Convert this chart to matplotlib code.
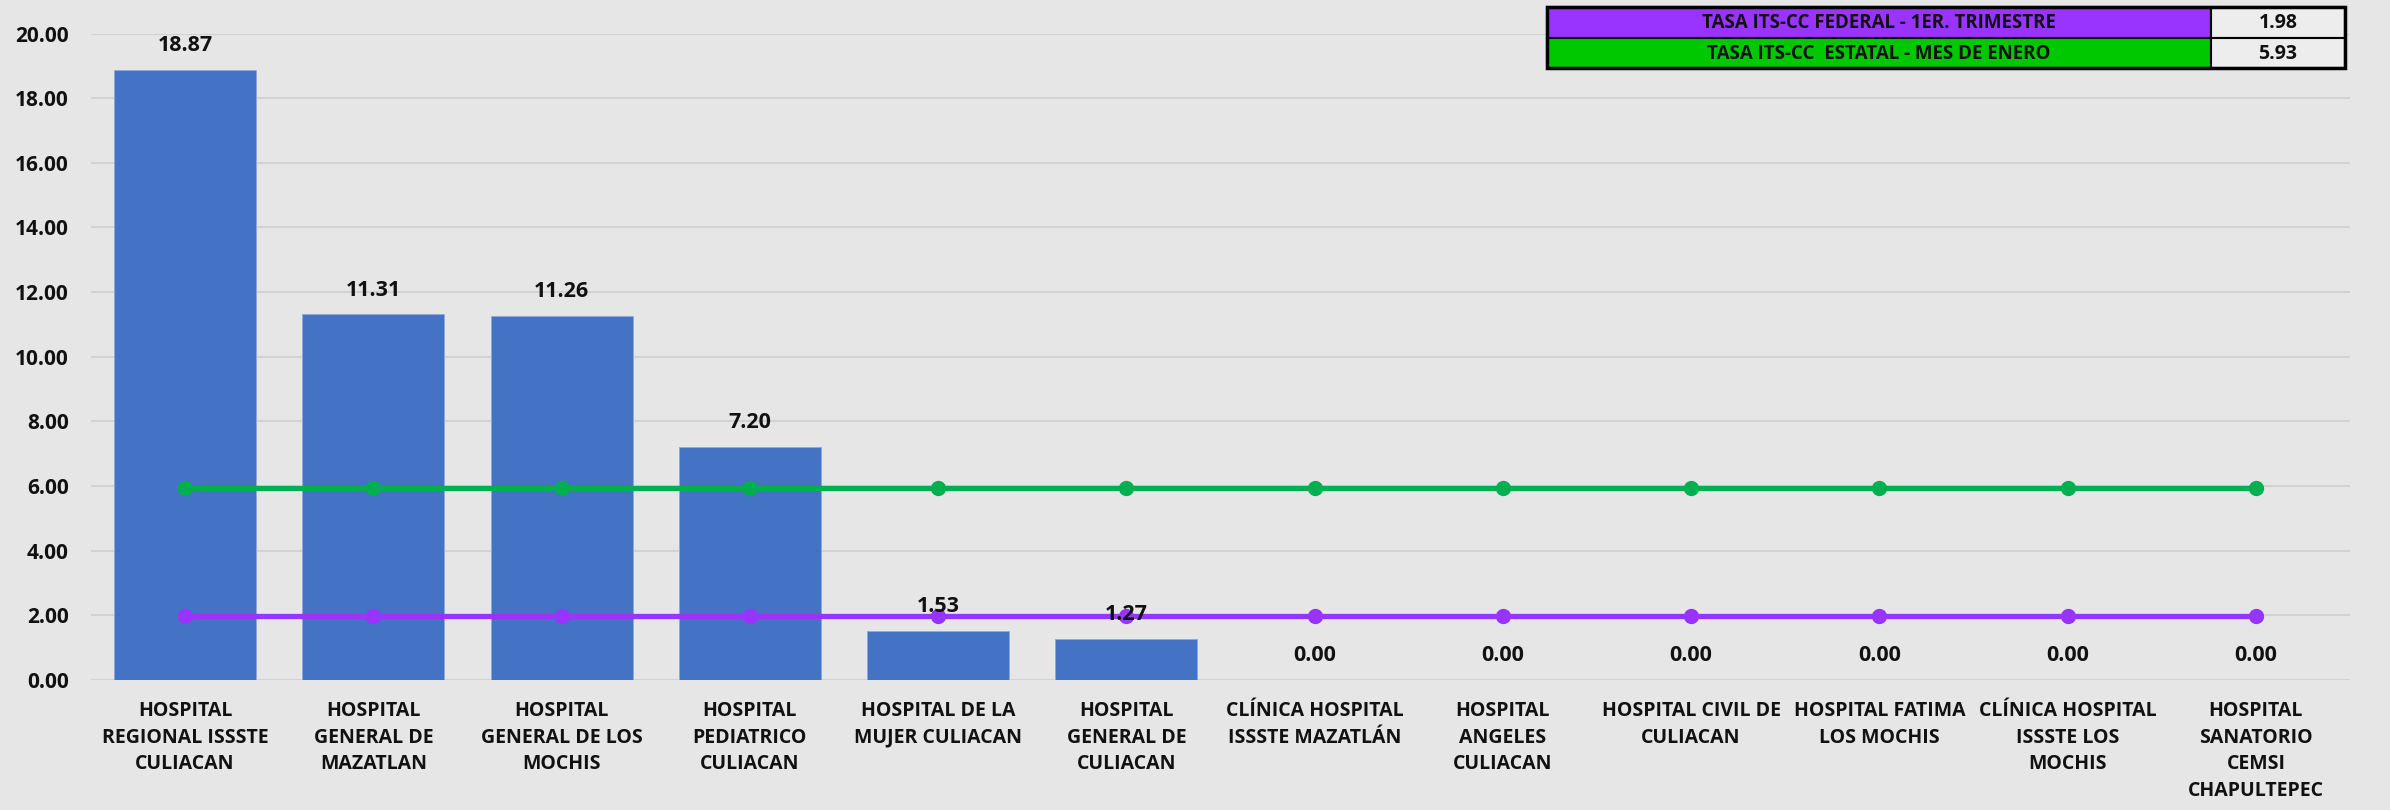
import matplotlib
matplotlib.use("Agg")
import matplotlib.pyplot as plt
from matplotlib import font_manager as fm
from matplotlib.patches import Rectangle
import numpy as np

categories = [
    "HOSPITAL\nREGIONAL ISSSTE\nCULIACAN",
    "HOSPITAL\nGENERAL DE\nMAZATLAN",
    "HOSPITAL\nGENERAL DE LOS\nMOCHIS",
    "HOSPITAL\nPEDIATRICO\nCULIACAN",
    "HOSPITAL DE LA\nMUJER CULIACAN",
    "HOSPITAL\nGENERAL DE\nCULIACAN",
    "CLÍNICA HOSPITAL\nISSSTE MAZATLÁN",
    "HOSPITAL\nANGELES\nCULIACAN",
    "HOSPITAL CIVIL DE\nCULIACAN",
    "HOSPITAL FATIMA\nLOS MOCHIS",
    "CLÍNICA HOSPITAL\nISSSTE LOS\nMOCHIS",
    "HOSPITAL\nSANATORIO\nCEMSI\nCHAPULTEPEC",
]
rates = [18.87, 11.31, 11.26, 7.20, 1.53, 1.27, 0.00, 0.00, 0.00, 0.00, 0.00, 0.00]
table_labels = ["TASA ITS-CC FEDERAL - 1ER. TRIMESTRE", "TASA ITS-CC  ESTATAL - MES DE ENERO"]
federal_rate = 1.98
state_rate = 5.93
yticks = [0, 2, 4, 6, 8, 10, 12, 14, 16, 18, 20]

names = {f.name for f in fm.fontManager.ttflist}
main_font = "Open Sans" if "Open Sans" in names else "DejaVu Sans"
narrow_font = "Liberation Sans Narrow" if "Liberation Sans Narrow" in names else main_font

BG = "#E7E6E6"
BAR = "#4472C4"
GREEN = "#00B050"
PURPLE = "#9933FF"
GRID = "#D2D2D2"

W, H = 2390, 810
fig = plt.figure(figsize=(W / 100, H / 100), dpi=100, facecolor=BG)
ax = fig.add_axes([91 / W, 1 - 680 / H, (2350 - 91) / W, (680 - 33.5) / H], facecolor=BG)

x = np.arange(len(categories))
bars = ax.bar(x, rates, width=0.755, color=BAR, edgecolor="#8FAADC", linewidth=0.6, zorder=2)
ax.plot(x, [state_rate] * len(x), color=GREEN, lw=3.8, marker="o", ms=10, zorder=3)
ax.plot(x, [federal_rate] * len(x), color=PURPLE, lw=3.8, marker="o", ms=10, zorder=3)

for xi, v in zip(x, rates):
    ax.annotate(f"{v:.2f}", (xi, v), xytext=(0, 10), textcoords="offset points",
                ha="center", va="bottom", fontsize=15.5, fontweight="bold",
                fontfamily=main_font, color="#111111", zorder=4)

ax.set_xlim(-0.5, len(categories) - 0.5)
ax.set_ylim(0, 20)
ax.set_yticks(yticks)
ax.set_yticklabels([f"{t:.2f}" for t in yticks], fontsize=15, fontweight="bold",
                   fontfamily=main_font, color="#111111")
ax.set_xticks(x)
ax.set_xticklabels(categories, fontsize=14, fontweight="bold", fontfamily=main_font,
                   color="#111111", linespacing=1.45, va="top")
ax.tick_params(axis="both", length=0)
ax.tick_params(axis="y", pad=16)
ax.tick_params(axis="x", pad=15)
ax.grid(axis="y", color=GRID, lw=1.5, zorder=0)
ax.set_axisbelow(True)
for s in ax.spines.values():
    s.set_visible(False)

# Table top right
tax = fig.add_axes([0, 0, 1, 1], facecolor="none")
tax.set_xlim(0, W)
tax.set_ylim(H, 0)
tax.axis("off")
left, mid, right = 1547, 2211, 2345
top, rowh = 7, 30.5
fills = [PURPLE, "#00C800"]
vals = [federal_rate, state_rate]
for i, (lab, val, fc) in enumerate(zip(table_labels, vals, fills)):
    y0 = top + i * rowh
    tax.add_patch(Rectangle((left, y0), mid - left, rowh, facecolor=fc, edgecolor="black", lw=1.5))
    tax.add_patch(Rectangle((mid, y0), right - mid, rowh, facecolor="#EDEDED", edgecolor="black", lw=1.5))
    tax.text((left + mid) / 2, y0 + rowh / 2 + 1, lab, ha="center", va="center",
             fontsize=13.5, fontweight="bold", fontfamily=narrow_font, color="#111111")
    tax.text((mid + right) / 2, y0 + rowh / 2 + 1, f"{val:.2f}", ha="center", va="center",
             fontsize=14, fontweight="bold", fontfamily=narrow_font, color="#111111")
tax.add_patch(Rectangle((left, top), right - left, 2 * rowh, facecolor="none", edgecolor="black", lw=2.5))

fig.savefig("out.png", dpi=100, facecolor=BG)
